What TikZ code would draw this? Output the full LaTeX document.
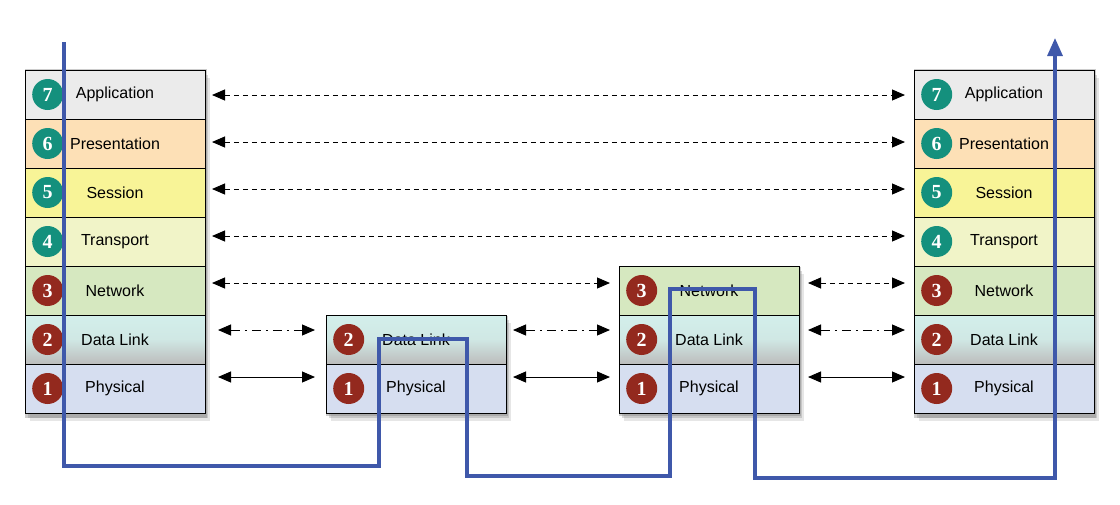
\documentclass[tikz,border=0pt]{standalone}
\usepackage{fontspec}
\setmainfont{Liberation Sans}
\newfontfamily\badgefont{Liberation Serif}
\usetikzlibrary{positioning,arrows.meta,shadows,fit,backgrounds}

% layer colours
\definecolor{appgray}{HTML}{EBEBEB}
\definecolor{prespeach}{HTML}{FDE0B6}
\definecolor{sessyellow}{HTML}{F8F497}
\definecolor{transpale}{HTML}{F1F4C8}
\definecolor{netgreen}{HTML}{D6E8C0}
\definecolor{dltop}{HTML}{D3EFEB}
\definecolor{dlbottom}{HTML}{BCBCBC}
\definecolor{physblue}{HTML}{D6DEF0}
\definecolor{badgeteal}{HTML}{14907D}
\definecolor{badgered}{HTML}{93291E}
\definecolor{flowblue}{HTML}{3F58AA}

\tikzset{
  layer/.style={draw=black, line width=1pt, minimum width=180pt, minimum height=49pt,
    inner sep=0pt, outer sep=0pt, font=\fontsize{16}{19}\selectfont},
  l7/.style={fill=appgray},
  l6/.style={fill=prespeach},
  l5/.style={fill=sessyellow},
  l4/.style={fill=transpale},
  l3/.style={fill=netgreen},
  l2/.style={top color=dltop, bottom color=dlbottom, middle color=dltop!85!dlbottom},
  l1/.style={fill=physblue},
  badge/.style={circle, minimum size=31pt, inner sep=0pt, text=white,
    font=\fontsize{20}{22}\selectfont\badgefont\bfseries},
  shade/.style={fill=white, inner sep=0pt,
    drop shadow={shadow xshift=1pt, shadow yshift=-2pt, shadow scale=1.015, opacity=0.4},
    drop shadow={shadow xshift=3pt, shadow yshift=-5pt, opacity=0.3},
    drop shadow={shadow xshift=5pt, shadow yshift=-8pt, opacity=0.2}},
  link/.style={{Triangle[length=13pt,width=11pt]}-{Triangle[length=13pt,width=11pt]}, line width=1pt},
  virt/.style={link, dash pattern=on 5pt off 4pt},
  frame/.style={link, dash pattern=on 9pt off 5pt on 2pt off 5pt},
  flow/.style={draw=flowblue, line width=3.2pt, line join=miter,
    -{Triangle[length=18pt,width=15pt]}}
}

\begin{document}
\begin{tikzpicture}[x=1pt,y=-1pt]
\useasboundingbox (0,0) rectangle (1120,504);
%Host A and host B, full stacks
\foreach \n/\name/\bc in {7/Application/badgeteal,6/Presentation/badgeteal,5/Session/badgeteal,
  4/Transport/badgeteal,3/Network/badgered,2/Data Link/badgered,1/Physical/badgered} {
  \node[layer, l\n, anchor=north west] (hostA\n) at (25,{70+49*(7-\n)}) {\name};
  \node[badge, fill=\bc, right=7pt of hostA\n.west] (hostA\n-badge) {\n};
  \node[layer, l\n, anchor=north west] (hostB\n) at (914,{70+49*(7-\n)}) {\name};
  \node[badge, fill=\bc, right=7pt of hostB\n.west] (hostB\n-badge) {\n};
}
%Router A, two layers
\foreach \n/\name in {2/Data Link,1/Physical} {
  \node[layer, l\n, anchor=north west] (routerA\n) at (326,{70+49*(7-\n)}) {\name};
  \node[badge, fill=badgered, right=7pt of routerA\n.west] (routerA\n-badge) {\n};
}
%Router B, three layers
\foreach \n/\name in {3/Network,2/Data Link,1/Physical} {
  \node[layer, l\n, anchor=north west] (routerB\n) at (619,{70+49*(7-\n)}) {\name};
  \node[badge, fill=badgered, right=7pt of routerB\n.west] (routerB\n-badge) {\n};
}
%Shadows behind the stacks
\begin{scope}[on background layer]
  \node[shade, fit=(hostA7)(hostA1)] (hostA-shadow) {};
  \node[shade, fit=(hostB7)(hostB1)] (hostB-shadow) {};
  \node[shade, fit=(routerA2)(routerA1)] (routerA-shadow) {};
  \node[shade, fit=(routerB3)(routerB1)] (routerB-shadow) {};
\end{scope}
%Peer links, upper layers end to end
\foreach \n in {7,6,5,4} {
  \pgfmathsetmacro{\dy}{0.5-2*(7-\n)}
  \draw[virt] ([shift={(7,\dy)}]hostA\n.east) -- ([shift={(-9,\dy)}]hostB\n.west);
}
%Network layer
\draw[virt] ([shift={(7,-7.5)}]hostA3.east) -- ([shift={(-9,-7.5)}]routerB3.west);
\draw[virt] ([shift={(9,-7.5)}]routerB3.east) -- ([shift={(-9,-7.5)}]hostB3.west);
%Data link layer
\draw[frame] ([shift={(13,-9.5)}]hostA2.east) -- ([shift={(-11,-9.5)}]routerA2.west);
\draw[frame] ([shift={(7,-9.5)}]routerA2.east) -- ([shift={(-9,-9.5)}]routerB2.west);
\draw[frame] ([shift={(9,-9.5)}]routerB2.east) -- ([shift={(-9,-9.5)}]hostB2.west);
%Physical layer
\draw[link] ([shift={(13,-11.5)}]hostA1.east) -- ([shift={(-11,-11.5)}]routerA1.west);
\draw[link] ([shift={(7,-11.5)}]routerA1.east) -- ([shift={(-9,-11.5)}]routerB1.west);
\draw[link] ([shift={(9,-11.5)}]routerB1.east) -- ([shift={(-9,-11.5)}]hostB1.west);
%The data path
\coordinate (src) at (64,42);
\coordinate (sink) at (1055,38);
\draw[flow] (src) -- (64,466) -- (379,466) -- (379,339) -- (467,339) -- (467,476)
  -- (670,476) -- (670,289) -- (755,289) -- (755,478) -- (1055,478) -- (sink);
\end{tikzpicture}
\end{document}
